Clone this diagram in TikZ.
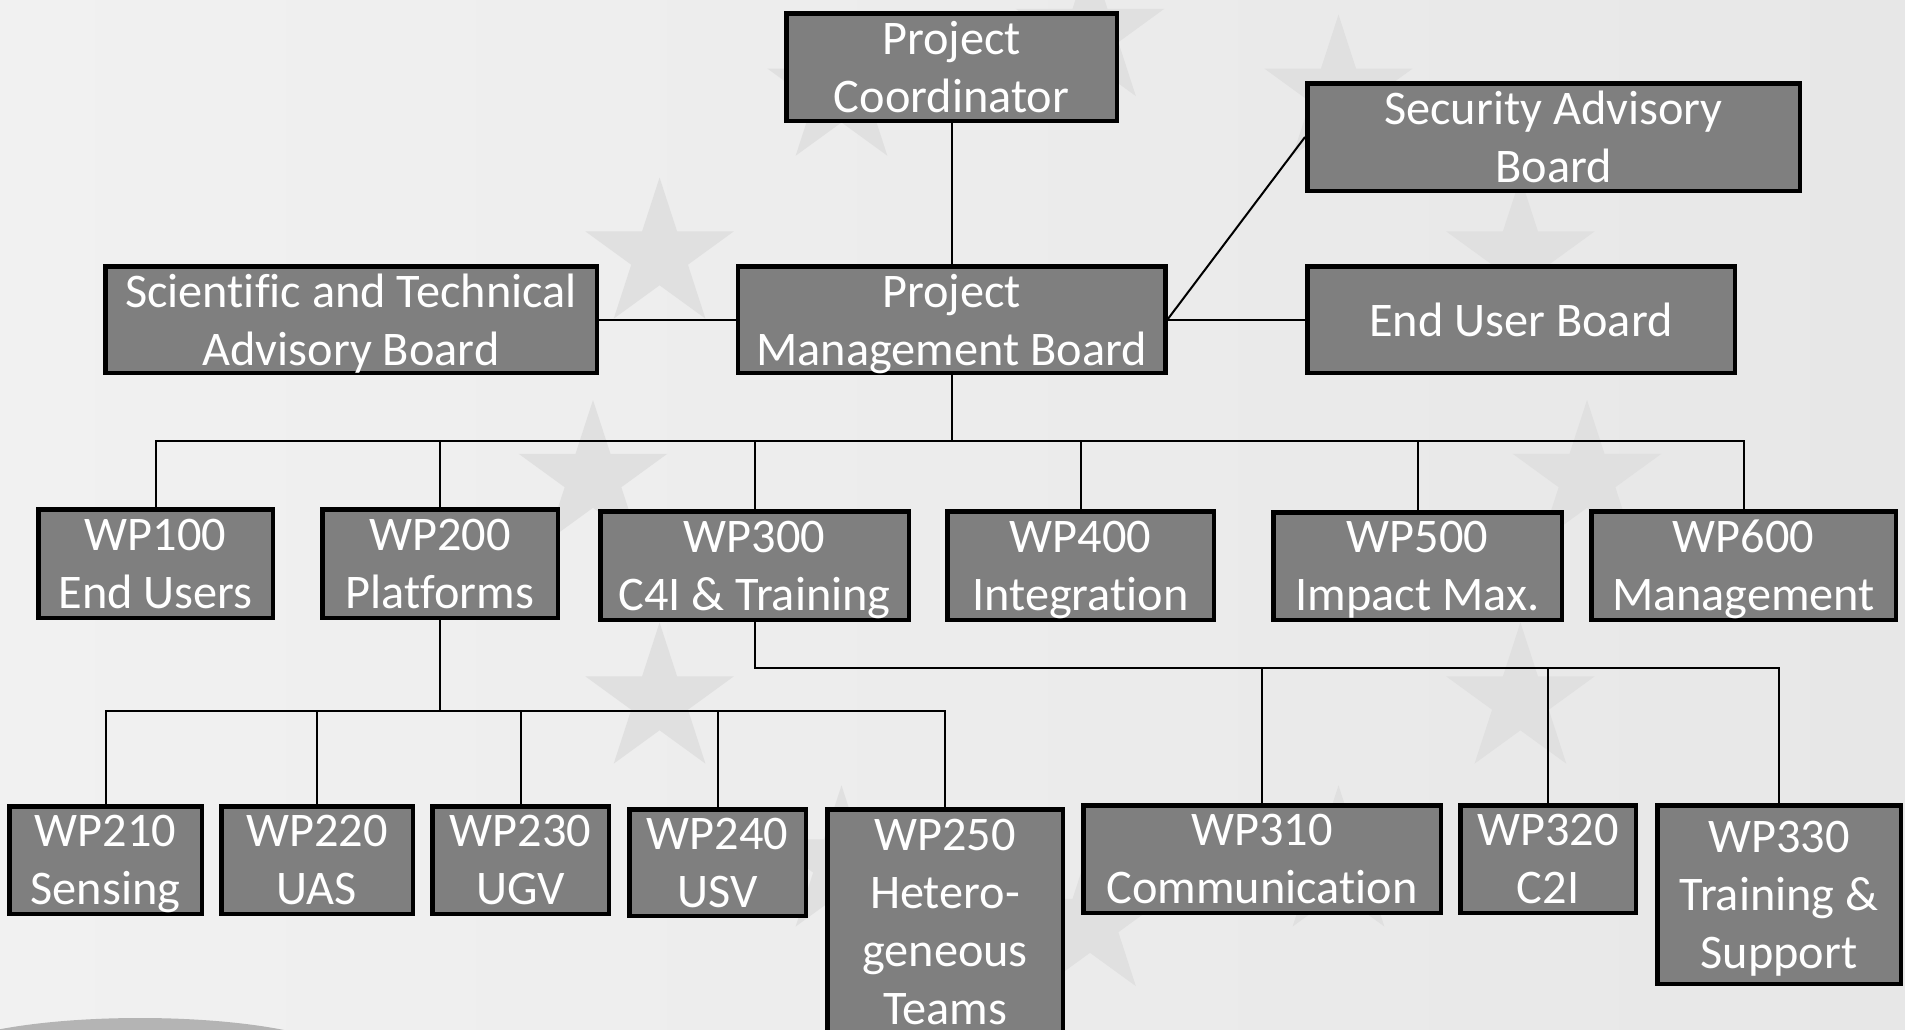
\documentclass[tikz,border=0pt]{standalone}
\usepackage{fontspec}
\setmainfont[Ligatures=NoCommon]{Carlito}
\definecolor{boxgray}{HTML}{7F7F7F}
\definecolor{bgL}{HTML}{F1F1F1}
\definecolor{bgR}{HTML}{E7E7E7}
\definecolor{stargray}{HTML}{E0E0E0}
\definecolor{swoosh}{HTML}{B4B4B4}
\begin{document}
\begin{tikzpicture}[x=1pt,y=-1pt,
  box/.style={draw=black, line width=4.5pt, fill=boxgray, text=white, align=center,
    inner sep=0pt, text depth=0pt, font=\fontsize{48.3}{58}\selectfont},
  sz/.style 2 args={minimum width={#1-4.5}, minimum height={#2-4.5}},
  conn/.style={line width=2pt, draw=black}]
\useasboundingbox (0,0) rectangle (1905,1029);
\clip (0,0) rectangle (1905,1029);
% background
\fill[left color=bgL, right color=bgR] (0,0) rectangle (1905,1029);
\foreach \a in {0,30,...,330}{
  \fill[stargray, shift={({1090+497*sin(\a)},{478-445*cos(\a)})}]
    (-90:78) -- (-54:29.8) -- (-18:78) -- (18:29.8) -- (54:78) -- (90:29.8)
    -- (126:78) -- (162:29.8) -- (198:78) -- (234:29.8) -- cycle;
}
\fill[swoosh] (140,1062) ellipse [x radius=210, y radius=44];

% top level
\node[box, sz={335}{112}] (pc)   at (951.5,67)   {Project\\Coordinator};
\node[box, sz={497}{112}] (sab)  at (1553.5,137) {Security Advisory\\Board};
\node[box, sz={496}{111}] (stab) at (351,319.5)  {Scientific and Technical\\Advisory Board};
\node[box, sz={432}{111}] (pmb)  at (951.5,319.5) {Project\\Management Board};
\node[box, sz={432}{111}] (eub)  at (1521,319.5) {End User Board};

% work packages
\node[box, sz={239}{113}] (wp100) at (155.5,563.5) {WP100\\End Users};
\node[box, sz={240}{113}] (wp200) at (440,563.5)   {WP200\\Platforms};
\node[box, sz={313}{113}] (wp300) at (754.5,565.5) {WP300\\C4I \& Training};
\node[box, sz={271}{113}] (wp400) at (1080.5,565.5) {WP400\\Integration};
\node[box, sz={293}{112}] (wp500) at (1417.5,566)  {WP500\\Impact Max.};
\node[box, sz={309}{113}] (wp600) at (1743.5,565.5) {WP600\\Management};

% sub work packages
\node[box, sz={197}{112}] (wp210) at (105.5,860) {WP210\\Sensing};
\node[box, sz={196}{112}] (wp220) at (317,860)   {WP220\\UAS};
\node[box, sz={181}{112}] (wp230) at (520.5,860) {WP230\\UGV};
\node[box, sz={181}{111}] (wp240) at (717.5,862.5) {WP240\\USV};
\node[box, sz={240}{230}] (wp250) at (945,922)   {WP250\\Hetero-\\geneous\\Teams};
\node[box, sz={362}{112}] (wp310) at (1262,859)  {WP310\\Communication};
\node[box, sz={180}{112}] (wp320) at (1548,859)  {WP320\\C2I};
\node[box, sz={248}{183}] (wp330) at (1779,894.5) {WP330\\Training \&\\Support};

% connectors
\draw[conn] (pc.south) -- (pmb.north);
\draw[conn] (stab.east) -- (pmb.west);
\draw[conn] (pmb.east) -- (eub.west);
\draw[conn] (pmb.east) -- (sab.west);
\foreach \c in {wp100,wp200,wp300,wp400,wp500,wp600}
  \draw[conn] (pmb.south) -- ++(0,66) -| (\c.north);
\foreach \c in {wp210,wp220,wp230,wp240,wp250}
  \draw[conn] (wp200.south) -- ++(0,91) -| (\c.north);
\foreach \c in {wp310,wp320,wp330}
  \draw[conn] (wp300.south) -- ++(0,46) -| (\c.north);
\end{tikzpicture}
\end{document}
